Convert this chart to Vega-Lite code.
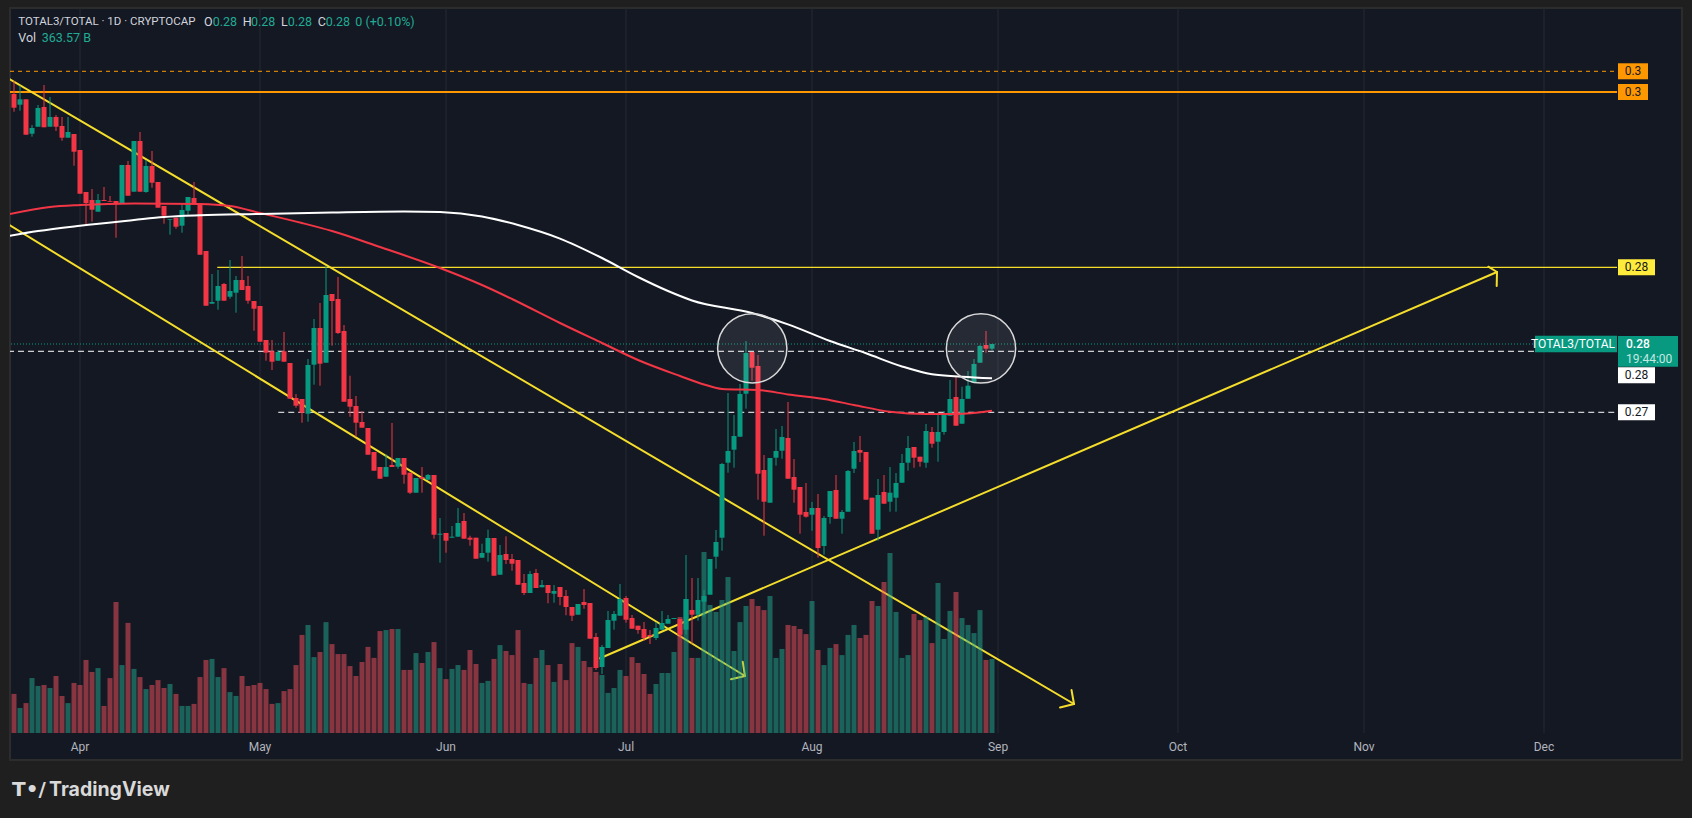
{
  "$schema": "https://vega.github.io/schema/vega-lite/v6.json",
  "width": 1672,
  "height": 752,
  "autosize": {"type": "none"},
  "padding": {"left": 10, "top": 8, "right": 10, "bottom": 58},
  "background": "#1f1f1f",
  "config": {
    "view": {"fill": "#141823", "stroke": "#2c2c2c", "strokeWidth": 2},
    "scale": {"continuousPadding": 0},
    "text": {"font": "Roboto"}
  },
  "datasets": {
    "candles": [
      {"date":"2025-03-21","o":0.29502,"h":0.29593,"l":0.29378,"c":0.29406,"v":192},
      {"date":"2025-03-22","o":0.29427,"h":0.29560,"l":0.29385,"c":0.29465,"v":123},
      {"date":"2025-03-23","o":0.29465,"h":0.29465,"l":0.29217,"c":0.29217,"v":147},
      {"date":"2025-03-24","o":0.29224,"h":0.29285,"l":0.29203,"c":0.29264,"v":270},
      {"date":"2025-03-25","o":0.29273,"h":0.29425,"l":0.29273,"c":0.29404,"v":231},
      {"date":"2025-03-26","o":0.29411,"h":0.29565,"l":0.29269,"c":0.29269,"v":236},
      {"date":"2025-03-27","o":0.29273,"h":0.29481,"l":0.29273,"c":0.29341,"v":221},
      {"date":"2025-03-28","o":0.29341,"h":0.29355,"l":0.29243,"c":0.29273,"v":280},
      {"date":"2025-03-29","o":0.29278,"h":0.29341,"l":0.29175,"c":0.29196,"v":182},
      {"date":"2025-03-30","o":0.29196,"h":0.29341,"l":0.29196,"c":0.29236,"v":147},
      {"date":"2025-03-31","o":0.29222,"h":0.29222,"l":0.29000,"c":0.29098,"v":246},
      {"date":"2025-04-01","o":0.29110,"h":0.29110,"l":0.28804,"c":0.28804,"v":236},
      {"date":"2025-04-02","o":0.28816,"h":0.28816,"l":0.28592,"c":0.28739,"v":359},
      {"date":"2025-04-03","o":0.28760,"h":0.28837,"l":0.28608,"c":0.28692,"v":300},
      {"date":"2025-04-04","o":0.28678,"h":0.28802,"l":0.28678,"c":0.28760,"v":319},
      {"date":"2025-04-05","o":0.28760,"h":0.28851,"l":0.28753,"c":0.28753,"v":133},
      {"date":"2025-04-06","o":0.28753,"h":0.28788,"l":0.28748,"c":0.28748,"v":270},
      {"date":"2025-04-07","o":0.28753,"h":0.28753,"l":0.28496,"c":0.28734,"v":644},
      {"date":"2025-04-08","o":0.28734,"h":0.29005,"l":0.28734,"c":0.29005,"v":334},
      {"date":"2025-04-09","o":0.29005,"h":0.29033,"l":0.28790,"c":0.28790,"v":541},
      {"date":"2025-04-10","o":0.28818,"h":0.29173,"l":0.28818,"c":0.29173,"v":315},
      {"date":"2025-04-11","o":0.29173,"h":0.29236,"l":0.28818,"c":0.28818,"v":275},
      {"date":"2025-04-12","o":0.28816,"h":0.29040,"l":0.28811,"c":0.28998,"v":216},
      {"date":"2025-04-13","o":0.28998,"h":0.29103,"l":0.28846,"c":0.28881,"v":236},
      {"date":"2025-04-14","o":0.28886,"h":0.28886,"l":0.28706,"c":0.28706,"v":260},
      {"date":"2025-04-15","o":0.28718,"h":0.28718,"l":0.28594,"c":0.28650,"v":221},
      {"date":"2025-04-16","o":0.28622,"h":0.28627,"l":0.28517,"c":0.28627,"v":241},
      {"date":"2025-04-17","o":0.28636,"h":0.28636,"l":0.28559,"c":0.28573,"v":192},
      {"date":"2025-04-18","o":0.28580,"h":0.28725,"l":0.28531,"c":0.28690,"v":133},
      {"date":"2025-04-19","o":0.28685,"h":0.28781,"l":0.28657,"c":0.28781,"v":133},
      {"date":"2025-04-20","o":0.28774,"h":0.28886,"l":0.28737,"c":0.28737,"v":143},
      {"date":"2025-04-21","o":0.28737,"h":0.28737,"l":0.28377,"c":0.28377,"v":275},
      {"date":"2025-04-22","o":0.28403,"h":0.28403,"l":0.28020,"c":0.28020,"v":359},
      {"date":"2025-04-23","o":0.28034,"h":0.28242,"l":0.28034,"c":0.28046,"v":364},
      {"date":"2025-04-24","o":0.28055,"h":0.28270,"l":0.27992,"c":0.28158,"v":275},
      {"date":"2025-04-25","o":0.28172,"h":0.28179,"l":0.28055,"c":0.28055,"v":319},
      {"date":"2025-04-26","o":0.28083,"h":0.28340,"l":0.28069,"c":0.28123,"v":201},
      {"date":"2025-04-27","o":0.28111,"h":0.28228,"l":0.27971,"c":0.28200,"v":182},
      {"date":"2025-04-28","o":0.28200,"h":0.28368,"l":0.28130,"c":0.28130,"v":280},
      {"date":"2025-04-29","o":0.28158,"h":0.28228,"l":0.28034,"c":0.28055,"v":231},
      {"date":"2025-04-30","o":0.28053,"h":0.28053,"l":0.27845,"c":0.27999,"v":236},
      {"date":"2025-05-01","o":0.28018,"h":0.28018,"l":0.27768,"c":0.27768,"v":246},
      {"date":"2025-05-02","o":0.27780,"h":0.27780,"l":0.27635,"c":0.27691,"v":216},
      {"date":"2025-05-03","o":0.27701,"h":0.27780,"l":0.27570,"c":0.27628,"v":143},
      {"date":"2025-05-04","o":0.27635,"h":0.27710,"l":0.27635,"c":0.27696,"v":147},
      {"date":"2025-05-05","o":0.27701,"h":0.27836,"l":0.27628,"c":0.27628,"v":206},
      {"date":"2025-05-06","o":0.27619,"h":0.27619,"l":0.27369,"c":0.27369,"v":216},
      {"date":"2025-05-07","o":0.27374,"h":0.27402,"l":0.27306,"c":0.27320,"v":334},
      {"date":"2025-05-08","o":0.27367,"h":0.27367,"l":0.27201,"c":0.27271,"v":482},
      {"date":"2025-05-09","o":0.27264,"h":0.27647,"l":0.27208,"c":0.27605,"v":531},
      {"date":"2025-05-10","o":0.27607,"h":0.27927,"l":0.27467,"c":0.27864,"v":373},
      {"date":"2025-05-11","o":0.27864,"h":0.28039,"l":0.27460,"c":0.27614,"v":398},
      {"date":"2025-05-12","o":0.27621,"h":0.28298,"l":0.27621,"c":0.28095,"v":545},
      {"date":"2025-05-13","o":0.28102,"h":0.28102,"l":0.27740,"c":0.28053,"v":437},
      {"date":"2025-05-14","o":0.28067,"h":0.28221,"l":0.27822,"c":0.27829,"v":388},
      {"date":"2025-05-15","o":0.27843,"h":0.27885,"l":0.27348,"c":0.27348,"v":388},
      {"date":"2025-05-16","o":0.27367,"h":0.27530,"l":0.27243,"c":0.27313,"v":329},
      {"date":"2025-05-17","o":0.27318,"h":0.27388,"l":0.27103,"c":0.27201,"v":280},
      {"date":"2025-05-18","o":0.27206,"h":0.27283,"l":0.27166,"c":0.27166,"v":349},
      {"date":"2025-05-19","o":0.27164,"h":0.27164,"l":0.26977,"c":0.26977,"v":423},
      {"date":"2025-05-20","o":0.26996,"h":0.26996,"l":0.26865,"c":0.26865,"v":369},
      {"date":"2025-05-21","o":0.26891,"h":0.26891,"l":0.26809,"c":0.26809,"v":501},
      {"date":"2025-05-22","o":0.26823,"h":0.26980,"l":0.26823,"c":0.26891,"v":506},
      {"date":"2025-05-23","o":0.26905,"h":0.27199,"l":0.26891,"c":0.26891,"v":511},
      {"date":"2025-05-24","o":0.26893,"h":0.26954,"l":0.26879,"c":0.26954,"v":511},
      {"date":"2025-05-25","o":0.26954,"h":0.26954,"l":0.26774,"c":0.26837,"v":310},
      {"date":"2025-05-26","o":0.26851,"h":0.26851,"l":0.26702,"c":0.26711,"v":310},
      {"date":"2025-05-27","o":0.26711,"h":0.26814,"l":0.26711,"c":0.26814,"v":393},
      {"date":"2025-05-28","o":0.26821,"h":0.26891,"l":0.26711,"c":0.26809,"v":344},
      {"date":"2025-05-29","o":0.26802,"h":0.26842,"l":0.26802,"c":0.26835,"v":398},
      {"date":"2025-05-30","o":0.26835,"h":0.26835,"l":0.26389,"c":0.26417,"v":447},
      {"date":"2025-05-31","o":0.26417,"h":0.26534,"l":0.26221,"c":0.26424,"v":319},
      {"date":"2025-06-01","o":0.26429,"h":0.26429,"l":0.26291,"c":0.26375,"v":265},
      {"date":"2025-06-02","o":0.26396,"h":0.26478,"l":0.26396,"c":0.26403,"v":315},
      {"date":"2025-06-03","o":0.26403,"h":0.26604,"l":0.26403,"c":0.26499,"v":334},
      {"date":"2025-06-04","o":0.26513,"h":0.26569,"l":0.26389,"c":0.26389,"v":310},
      {"date":"2025-06-05","o":0.26396,"h":0.26410,"l":0.26340,"c":0.26382,"v":408},
      {"date":"2025-06-06","o":0.26396,"h":0.26396,"l":0.26249,"c":0.26249,"v":339},
      {"date":"2025-06-07","o":0.26256,"h":0.26354,"l":0.26256,"c":0.26289,"v":246},
      {"date":"2025-06-08","o":0.26291,"h":0.26452,"l":0.26228,"c":0.26394,"v":256},
      {"date":"2025-06-09","o":0.26394,"h":0.26394,"l":0.26130,"c":0.26130,"v":364},
      {"date":"2025-06-10","o":0.26137,"h":0.26345,"l":0.26137,"c":0.26275,"v":432},
      {"date":"2025-06-11","o":0.26282,"h":0.26406,"l":0.26212,"c":0.26240,"v":403},
      {"date":"2025-06-12","o":0.26247,"h":0.26282,"l":0.26165,"c":0.26214,"v":383},
      {"date":"2025-06-13","o":0.26240,"h":0.26240,"l":0.26067,"c":0.26067,"v":506},
      {"date":"2025-06-14","o":0.26079,"h":0.26142,"l":0.25995,"c":0.26009,"v":246},
      {"date":"2025-06-15","o":0.26009,"h":0.26163,"l":0.26009,"c":0.26142,"v":241},
      {"date":"2025-06-16","o":0.26149,"h":0.26177,"l":0.26044,"c":0.26044,"v":369},
      {"date":"2025-06-17","o":0.26049,"h":0.26100,"l":0.26049,"c":0.26065,"v":408},
      {"date":"2025-06-18","o":0.26065,"h":0.26065,"l":0.25937,"c":0.26009,"v":334},
      {"date":"2025-06-19","o":0.26004,"h":0.26065,"l":0.25941,"c":0.26023,"v":251},
      {"date":"2025-06-20","o":0.26051,"h":0.26051,"l":0.25923,"c":0.25981,"v":339},
      {"date":"2025-06-21","o":0.25988,"h":0.26030,"l":0.25853,"c":0.25911,"v":260},
      {"date":"2025-06-22","o":0.25911,"h":0.25911,"l":0.25813,"c":0.25850,"v":442},
      {"date":"2025-06-23","o":0.25857,"h":0.25932,"l":0.25857,"c":0.25932,"v":423},
      {"date":"2025-06-24","o":0.25946,"h":0.26037,"l":0.25899,"c":0.25925,"v":354},
      {"date":"2025-06-25","o":0.25939,"h":0.25939,"l":0.25689,"c":0.25689,"v":324},
      {"date":"2025-06-26","o":0.25701,"h":0.25729,"l":0.25470,"c":0.25484,"v":300},
      {"date":"2025-06-27","o":0.25491,"h":0.25645,"l":0.25442,"c":0.25631,"v":285},
      {"date":"2025-06-28","o":0.25624,"h":0.25883,"l":0.25624,"c":0.25820,"v":197},
      {"date":"2025-06-29","o":0.25815,"h":0.25883,"l":0.25752,"c":0.25862,"v":221},
      {"date":"2025-06-30","o":0.25850,"h":0.26072,"l":0.25850,"c":0.25967,"v":310},
      {"date":"2025-07-01","o":0.25974,"h":0.25988,"l":0.25801,"c":0.25822,"v":280},
      {"date":"2025-07-02","o":0.25834,"h":0.25855,"l":0.25759,"c":0.25759,"v":373},
      {"date":"2025-07-03","o":0.25780,"h":0.25780,"l":0.25724,"c":0.25750,"v":344},
      {"date":"2025-07-04","o":0.25757,"h":0.25806,"l":0.25673,"c":0.25694,"v":290},
      {"date":"2025-07-05","o":0.25715,"h":0.25750,"l":0.25652,"c":0.25706,"v":192},
      {"date":"2025-07-06","o":0.25694,"h":0.25806,"l":0.25680,"c":0.25764,"v":241},
      {"date":"2025-07-07","o":0.25752,"h":0.25883,"l":0.25752,"c":0.25799,"v":295},
      {"date":"2025-07-08","o":0.25794,"h":0.25855,"l":0.25794,"c":0.25827,"v":295},
      {"date":"2025-07-09","o":0.25827,"h":0.25834,"l":0.25827,"c":0.25834,"v":398},
      {"date":"2025-07-10","o":0.25827,"h":0.25827,"l":0.25696,"c":0.25717,"v":570},
      {"date":"2025-07-11","o":0.25752,"h":0.26275,"l":0.25717,"c":0.25967,"v":658},
      {"date":"2025-07-12","o":0.25890,"h":0.26114,"l":0.25654,"c":0.25857,"v":369},
      {"date":"2025-07-13","o":0.25857,"h":0.26114,"l":0.25815,"c":0.25960,"v":369},
      {"date":"2025-07-14","o":0.25948,"h":0.26030,"l":0.25843,"c":0.25988,"v":889},
      {"date":"2025-07-15","o":0.25997,"h":0.26247,"l":0.25997,"c":0.26247,"v":629},
      {"date":"2025-07-16","o":0.26263,"h":0.26450,"l":0.26179,"c":0.26366,"v":595},
      {"date":"2025-07-17","o":0.26396,"h":0.26919,"l":0.26305,"c":0.26912,"v":654},
      {"date":"2025-07-18","o":0.26921,"h":0.27409,"l":0.26851,"c":0.27003,"v":767},
      {"date":"2025-07-19","o":0.27012,"h":0.27255,"l":0.26886,"c":0.27108,"v":403},
      {"date":"2025-07-20","o":0.27103,"h":0.27472,"l":0.27103,"c":0.27402,"v":545},
      {"date":"2025-07-21","o":0.27404,"h":0.27773,"l":0.27299,"c":0.27689,"v":624},
      {"date":"2025-07-22","o":0.27696,"h":0.27696,"l":0.27495,"c":0.27586,"v":658},
      {"date":"2025-07-23","o":0.27598,"h":0.27675,"l":0.26662,"c":0.26844,"v":624},
      {"date":"2025-07-24","o":0.26870,"h":0.26975,"l":0.26410,"c":0.26648,"v":604},
      {"date":"2025-07-25","o":0.26641,"h":0.26954,"l":0.26641,"c":0.26954,"v":673},
      {"date":"2025-07-26","o":0.26956,"h":0.27157,"l":0.26900,"c":0.27003,"v":369},
      {"date":"2025-07-27","o":0.27005,"h":0.27178,"l":0.26949,"c":0.27101,"v":413},
      {"date":"2025-07-28","o":0.27094,"h":0.27346,"l":0.26809,"c":0.26809,"v":531},
      {"date":"2025-07-29","o":0.26821,"h":0.26947,"l":0.26641,"c":0.26732,"v":526},
      {"date":"2025-07-30","o":0.26751,"h":0.26751,"l":0.26424,"c":0.26557,"v":511},
      {"date":"2025-07-31","o":0.26576,"h":0.26779,"l":0.26536,"c":0.26543,"v":486},
      {"date":"2025-08-01","o":0.26557,"h":0.26646,"l":0.26445,"c":0.26604,"v":649},
      {"date":"2025-08-02","o":0.26604,"h":0.26702,"l":0.26256,"c":0.26324,"v":408},
      {"date":"2025-08-03","o":0.26338,"h":0.26548,"l":0.26277,"c":0.26534,"v":334},
      {"date":"2025-08-04","o":0.26541,"h":0.26723,"l":0.26494,"c":0.26723,"v":418},
      {"date":"2025-08-05","o":0.26730,"h":0.26835,"l":0.26529,"c":0.26529,"v":437},
      {"date":"2025-08-06","o":0.26529,"h":0.26590,"l":0.26424,"c":0.26576,"v":383},
      {"date":"2025-08-07","o":0.26578,"h":0.26870,"l":0.26578,"c":0.26863,"v":482},
      {"date":"2025-08-08","o":0.26879,"h":0.27066,"l":0.26849,"c":0.27003,"v":531},
      {"date":"2025-08-09","o":0.27010,"h":0.27108,"l":0.26926,"c":0.26991,"v":467},
      {"date":"2025-08-10","o":0.26996,"h":0.26996,"l":0.26662,"c":0.26662,"v":482},
      {"date":"2025-08-11","o":0.26676,"h":0.26676,"l":0.26424,"c":0.26424,"v":649},
      {"date":"2025-08-12","o":0.26452,"h":0.26807,"l":0.26375,"c":0.26695,"v":624},
      {"date":"2025-08-13","o":0.26716,"h":0.26835,"l":0.26634,"c":0.26634,"v":742},
      {"date":"2025-08-14","o":0.26648,"h":0.26891,"l":0.26578,"c":0.26711,"v":885},
      {"date":"2025-08-15","o":0.26676,"h":0.26849,"l":0.26578,"c":0.26779,"v":595},
      {"date":"2025-08-16","o":0.26781,"h":0.26982,"l":0.26781,"c":0.26919,"v":369},
      {"date":"2025-08-17","o":0.26921,"h":0.27108,"l":0.26865,"c":0.27024,"v":383},
      {"date":"2025-08-18","o":0.27031,"h":0.27031,"l":0.26886,"c":0.26956,"v":585},
      {"date":"2025-08-19","o":0.26963,"h":0.26963,"l":0.26893,"c":0.26928,"v":555},
      {"date":"2025-08-20","o":0.26921,"h":0.27192,"l":0.26886,"c":0.27143,"v":570},
      {"date":"2025-08-21","o":0.27136,"h":0.27171,"l":0.27026,"c":0.27054,"v":442},
      {"date":"2025-08-22","o":0.27068,"h":0.27255,"l":0.26928,"c":0.27136,"v":737},
      {"date":"2025-08-23","o":0.27136,"h":0.27283,"l":0.27117,"c":0.27255,"v":462},
      {"date":"2025-08-24","o":0.27250,"h":0.27500,"l":0.27250,"c":0.27367,"v":600},
      {"date":"2025-08-25","o":0.27381,"h":0.27521,"l":0.27180,"c":0.27180,"v":693},
      {"date":"2025-08-26","o":0.27194,"h":0.27453,"l":0.27194,"c":0.27367,"v":565},
      {"date":"2025-08-27","o":0.27369,"h":0.27563,"l":0.27369,"c":0.27460,"v":531},
      {"date":"2025-08-28","o":0.27479,"h":0.27647,"l":0.27479,"c":0.27612,"v":491},
      {"date":"2025-08-29","o":0.27621,"h":0.27745,"l":0.27621,"c":0.27738,"v":604},
      {"date":"2025-08-30","o":0.27745,"h":0.27843,"l":0.27691,"c":0.27719,"v":359},
      {"date":"2025-08-31","o":0.27719,"h":0.27752,"l":0.27705,"c":0.27752,"v":363.57}
    ],
    "ma_red": [
      {"date":"2025-03-20","price":0.28659},
      {"date":"2025-03-27","price":0.28711},
      {"date":"2025-04-01","price":0.28725},
      {"date":"2025-04-10","price":0.28736},
      {"date":"2025-04-21","price":0.28732},
      {"date":"2025-04-26","price":0.28718},
      {"date":"2025-05-01","price":0.28669},
      {"date":"2025-05-08","price":0.28599},
      {"date":"2025-05-13","price":0.28543},
      {"date":"2025-05-21","price":0.28431},
      {"date":"2025-05-31","price":0.28284},
      {"date":"2025-06-07","price":0.28165},
      {"date":"2025-06-12","price":0.28067},
      {"date":"2025-06-20","price":0.27899},
      {"date":"2025-06-27","price":0.27759},
      {"date":"2025-07-03","price":0.27640},
      {"date":"2025-07-10","price":0.27528},
      {"date":"2025-07-14","price":0.27469},
      {"date":"2025-07-17","price":0.27437},
      {"date":"2025-07-23","price":0.27430},
      {"date":"2025-07-28","price":0.27399},
      {"date":"2025-08-03","price":0.27367},
      {"date":"2025-08-08","price":0.27325},
      {"date":"2025-08-14","price":0.27278},
      {"date":"2025-08-20","price":0.27262},
      {"date":"2025-08-25","price":0.27262},
      {"date":"2025-08-31","price":0.27285}
    ],
    "ma_white": [
      {"date":"2025-03-20","price":0.28508},
      {"date":"2025-03-25","price":0.28543},
      {"date":"2025-04-01","price":0.28580},
      {"date":"2025-04-10","price":0.28620},
      {"date":"2025-04-15","price":0.28641},
      {"date":"2025-04-21","price":0.28653},
      {"date":"2025-05-01","price":0.28662},
      {"date":"2025-05-13","price":0.28673},
      {"date":"2025-05-25","price":0.28680},
      {"date":"2025-05-31","price":0.28676},
      {"date":"2025-06-07","price":0.28645},
      {"date":"2025-06-13","price":0.28585},
      {"date":"2025-06-20","price":0.28490},
      {"date":"2025-06-27","price":0.28354},
      {"date":"2025-07-03","price":0.28221},
      {"date":"2025-07-08","price":0.28123},
      {"date":"2025-07-12","price":0.28057},
      {"date":"2025-07-22","price":0.27969},
      {"date":"2025-07-28","price":0.27889},
      {"date":"2025-08-04","price":0.27773},
      {"date":"2025-08-10","price":0.27687},
      {"date":"2025-08-16","price":0.27595},
      {"date":"2025-08-21","price":0.27540},
      {"date":"2025-08-26","price":0.27523},
      {"date":"2025-08-31","price":0.27512}
    ],
    "trend": [
      {"seg":"A","date":"2025-03-20","price":0.29613},
      {"seg":"A","date":"2025-09-13T16:00:00Z","price":0.25232},
      {"seg":"A1","date":"2025-09-13T06:00:00Z","price":0.25330},
      {"seg":"A1","date":"2025-09-13T16:00:00Z","price":0.25232},
      {"seg":"A2","date":"2025-09-11T08:00:00Z","price":0.25208},
      {"seg":"A2","date":"2025-09-13T16:00:00Z","price":0.25232},
      {"seg":"B","date":"2025-03-20","price":0.28591},
      {"seg":"B","date":"2025-07-20T20:00:00Z","price":0.25428},
      {"seg":"B1","date":"2025-07-20T10:48:00Z","price":0.25528},
      {"seg":"B1","date":"2025-07-20T20:00:00Z","price":0.25428},
      {"seg":"B2","date":"2025-07-18T12:00:00Z","price":0.25405},
      {"seg":"B2","date":"2025-07-20T20:00:00Z","price":0.25428},
      {"seg":"C","date":"2025-06-26T16:00:00Z","price":0.25552},
      {"seg":"C","date":"2025-11-23T04:00:00Z","price":0.28256},
      {"seg":"C1","date":"2025-11-21T17:12:00Z","price":0.28293},
      {"seg":"C1","date":"2025-11-23T04:00:00Z","price":0.28256},
      {"seg":"C2","date":"2025-11-23T02:48:00Z","price":0.28158},
      {"seg":"C2","date":"2025-11-23T04:00:00Z","price":0.28256}
    ],
    "hlines": [
      {"name":"orange_dash","start":"2025-03-15","end":"2025-12-13T04:00:00Z","price":0.29661},
      {"name":"orange","start":"2025-03-15","end":"2025-12-13T04:00:00Z","price":0.29516},
      {"name":"yellow","start":"2025-04-23T21:00:00Z","end":"2025-12-13T04:00:00Z","price":0.28289},
      {"name":"white_dash","start":"2025-03-15","end":"2025-11-29T12:00:00Z","price":0.27701},
      {"name":"white_dash","start":"2025-05-04T01:00:00Z","end":"2025-12-13T04:00:00Z","price":0.27274},
      {"name":"last","start":"2025-03-15","end":"2025-11-29T12:00:00Z","price":0.27752}
    ],
    "months": [
      {"date":"2025-04-01","label":"Apr"},
      {"date":"2025-05-01","label":"May"},
      {"date":"2025-06-01","label":"Jun"},
      {"date":"2025-07-01","label":"Jul"},
      {"date":"2025-08-01","label":"Aug"},
      {"date":"2025-09-01","label":"Sep"},
      {"date":"2025-10-01","label":"Oct"},
      {"date":"2025-11-01","label":"Nov"},
      {"date":"2025-12-01","label":"Dec"}
    ],
    "circles": [
      {"date":"2025-07-22T01:00:00Z","price":0.27722},
      {"date":"2025-08-29T04:00:00Z","price":0.27721}
    ],
    "labels": [
      {"group":"orange","text":"0.3","price":0.29661},
      {"group":"orange","text":"0.3","price":0.29516},
      {"group":"yellow","text":"0.28","price":0.28289},
      {"group":"white","text":"0.28","price":0.27533},
      {"group":"white","text":"0.27","price":0.27274},
      {"group":"last","text":"0.28","price":0.27752},
      {"group":"symbol","text":"TOTAL3/TOTAL","price":0.27752}
    ],
    "header": [
      {"text":"TOTAL3/TOTAL · 1D · CRYPTOCAP","date":"2025-03-21T17:12:00Z","price":0.30006,"tone":"title"},
      {"text":"O","date":"2025-04-21T16:00:00Z","price":0.30006,"tone":"plain"},
      {"text":"0.28","date":"2025-04-23T02:48:00Z","price":0.30006,"tone":"value"},
      {"text":"H","date":"2025-04-28T02:48:00Z","price":0.30006,"tone":"plain"},
      {"text":"0.28","date":"2025-04-29T12:00:00Z","price":0.30006,"tone":"value"},
      {"text":"L","date":"2025-05-04T12:00:00Z","price":0.30006,"tone":"plain"},
      {"text":"0.28","date":"2025-05-05T14:48:00Z","price":0.30006,"tone":"value"},
      {"text":"C","date":"2025-05-10T14:48:00Z","price":0.30006,"tone":"plain"},
      {"text":"0.28","date":"2025-05-11T22:48:00Z","price":0.30006,"tone":"value"},
      {"text":"0 (+0.10%)","date":"2025-05-16T21:12:00Z","price":0.30006,"tone":"value"},
      {"text":"Vol","date":"2025-03-21T17:12:00Z","price":0.29894,"tone":"plain"},
      {"text":"363.57 B","date":"2025-03-25T14:48:00Z","price":0.29894,"tone":"value"}
    ],
    "logo": [
      {"part":"icon","text":"T•/","date":"2025-03-20T16:00:00Z","price":0.2463},
      {"part":"word","text":"TradingView","date":"2025-03-26T20:00:00Z","price":0.2463}
    ]
  },
  "layer": [
    {
      "layer": [
        {
          "data": {"name": "months"},
          "mark": {"type": "rule", "color": "#242935", "strokeWidth": 1},
          "encoding": {
            "x": {"field": "date", "type": "temporal", "axis": null,
                  "scale": {"type": "utc", "nice": false, "padding": 0,
                            "domain": [{"year": 2025, "month": 3, "date": 20, "hours": 8, "utc": true}, {"year": 2025, "month": 12, "date": 24, "utc": true}]}},
            "y": {"datum": 0.30104, "type": "quantitative", "axis": null,
                  "scale": {"domain": [0.2484, 0.30104], "nice": false, "zero": false}},
            "y2": {"datum": 0.25029}
          }
        },
        {
          "data": {"name": "hlines", "format": {"parse": {"start": "date", "end": "date"}}},
          "transform": [{"filter": "datum.name == 'orange_dash'"}],
          "mark": {"type": "rule", "color": "#ff9800", "strokeWidth": 1, "strokeDash": [4, 4], "clip": true},
          "encoding": {
            "x": {"field": "start", "type": "temporal", "axis": null},
            "x2": {"field": "end"},
            "y": {"field": "price", "type": "quantitative", "axis": null}
          }
        },
        {
          "data": {"name": "hlines", "format": {"parse": {"start": "date", "end": "date"}}},
          "transform": [{"filter": "datum.name == 'orange'"}],
          "mark": {"type": "rule", "color": "#ff9800", "strokeWidth": 2, "clip": true},
          "encoding": {
            "x": {"field": "start", "type": "temporal", "axis": null},
            "x2": {"field": "end"},
            "y": {"field": "price", "type": "quantitative", "axis": null}
          }
        },
        {
          "data": {"name": "hlines", "format": {"parse": {"start": "date", "end": "date"}}},
          "transform": [{"filter": "datum.name == 'yellow'"}],
          "mark": {"type": "rule", "color": "#f5dd2b", "strokeWidth": 1.2, "clip": true},
          "encoding": {
            "x": {"field": "start", "type": "temporal", "axis": null},
            "x2": {"field": "end"},
            "y": {"field": "price", "type": "quantitative", "axis": null}
          }
        },
        {
          "data": {"name": "hlines", "format": {"parse": {"start": "date", "end": "date"}}},
          "transform": [{"filter": "datum.name == 'white_dash'"}],
          "mark": {"type": "rule", "color": "#ffffff", "strokeWidth": 1, "strokeDash": [6, 4], "clip": true},
          "encoding": {
            "x": {"field": "start", "type": "temporal", "axis": null},
            "x2": {"field": "end"},
            "y": {"field": "price", "type": "quantitative", "axis": null}
          }
        },
        {
          "data": {"name": "hlines", "format": {"parse": {"start": "date", "end": "date"}}},
          "transform": [{"filter": "datum.name == 'last'"}],
          "mark": {"type": "rule", "color": "#089981", "strokeWidth": 1, "strokeDash": [1, 2], "clip": true},
          "encoding": {
            "x": {"field": "start", "type": "temporal", "axis": null},
            "x2": {"field": "end"},
            "y": {"field": "price", "type": "quantitative", "axis": null}
          }
        },
        {
          "data": {"name": "trend"},
          "mark": {"type": "line", "color": "#f5dd2b", "strokeWidth": 2, "strokeCap": "round", "clip": true},
          "encoding": {
            "x": {"field": "date", "type": "temporal", "axis": null},
            "y": {"field": "price", "type": "quantitative", "axis": null},
            "detail": {"field": "seg"}
          }
        }
      ]
    },
    {
      "data": {"name": "candles"},
      "mark": {"type": "bar", "size": 5, "opacity": 0.5},
      "encoding": {
        "x": {"field": "date", "type": "temporal", "axis": null,
              "scale": {"type": "utc", "nice": false, "padding": 0,
                        "domain": [{"year": 2025, "month": 3, "date": 20, "hours": 8, "utc": true}, {"year": 2025, "month": 12, "date": 24, "utc": true}]}},
        "y": {"field": "v", "type": "quantitative", "axis": null,
              "scale": {"domain": [-132.7, 3562.9], "nice": false, "zero": false}},
        "y2": {"datum": 0},
        "color": {"condition": {"test": "datum.c >= datum.o", "value": "#22ab94"}, "value": "#f7525f"}
      }
    },
    {
      "layer": [
        {
          "data": {"name": "candles"},
          "mark": {"type": "rule", "strokeWidth": 1},
          "encoding": {
            "x": {"field": "date", "type": "temporal", "axis": null,
                  "scale": {"type": "utc", "nice": false, "padding": 0,
                            "domain": [{"year": 2025, "month": 3, "date": 20, "hours": 8, "utc": true}, {"year": 2025, "month": 12, "date": 24, "utc": true}]}},
            "y": {"field": "l", "type": "quantitative", "axis": null,
                  "scale": {"domain": [0.2484, 0.30104], "nice": false, "zero": false}},
            "y2": {"field": "h"},
            "color": {"condition": {"test": "datum.c >= datum.o", "value": "#089981"}, "value": "#f23645"}
          }
        },
        {
          "data": {"name": "candles"},
          "mark": {"type": "bar", "size": 5},
          "encoding": {
            "x": {"field": "date", "type": "temporal", "axis": null},
            "y": {"field": "o", "type": "quantitative", "axis": null},
            "y2": {"field": "c"},
            "color": {"condition": {"test": "datum.c >= datum.o", "value": "#089981"}, "value": "#f23645"}
          }
        },
        {
          "data": {"name": "ma_red"},
          "mark": {"type": "line", "color": "#f23645", "strokeWidth": 2, "interpolate": "monotone", "clip": true},
          "encoding": {
            "x": {"field": "date", "type": "temporal", "axis": null},
            "y": {"field": "price", "type": "quantitative", "axis": null}
          }
        },
        {
          "data": {"name": "ma_white"},
          "mark": {"type": "line", "color": "#ffffff", "strokeWidth": 2, "interpolate": "monotone", "clip": true},
          "encoding": {
            "x": {"field": "date", "type": "temporal", "axis": null},
            "y": {"field": "price", "type": "quantitative", "axis": null}
          }
        },
        {
          "data": {"name": "circles"},
          "mark": {"type": "point", "shape": "circle", "size": 4800, "filled": true, "fill": "#ffffff", "fillOpacity": 0.08, "stroke": "#d9d9d9", "strokeWidth": 1.5, "opacity": 1},
          "encoding": {
            "x": {"field": "date", "type": "temporal", "axis": null},
            "y": {"field": "price", "type": "quantitative", "axis": null}
          }
        },
        {
          "data": {"name": "labels"},
          "transform": [{"filter": "datum.group == 'orange'"}],
          "mark": {"type": "rect", "color": "#ff9800", "yOffset": -8, "y2Offset": 8},
          "encoding": {
            "x": {"datum": {"year": 2025, "month": 12, "date": 13, "hours": 8, "utc": true}, "type": "temporal", "axis": null},
            "x2": {"datum": {"year": 2025, "month": 12, "date": 18, "hours": 8, "utc": true}},
            "y": {"field": "price", "type": "quantitative", "axis": null},
            "y2": {"field": "price"}
          }
        },
        {
          "data": {"name": "labels"},
          "transform": [{"filter": "datum.group == 'orange'"}],
          "mark": {"type": "text", "color": "#131722", "fontSize": 12, "align": "center", "baseline": "middle"},
          "encoding": {
            "x": {"datum": {"year": 2025, "month": 12, "date": 15, "hours": 20, "utc": true}, "type": "temporal", "axis": null},
            "y": {"field": "price", "type": "quantitative", "axis": null},
            "text": {"field": "text"}
          }
        },
        {
          "data": {"name": "labels"},
          "transform": [{"filter": "datum.group == 'yellow' || datum.group == 'white'"}],
          "mark": {"type": "rect", "yOffset": -8, "y2Offset": 8},
          "encoding": {
            "x": {"datum": {"year": 2025, "month": 12, "date": 13, "hours": 8, "utc": true}, "type": "temporal", "axis": null},
            "x2": {"datum": {"year": 2025, "month": 12, "date": 19, "hours": 12, "utc": true}},
            "y": {"field": "price", "type": "quantitative", "axis": null},
            "y2": {"field": "price"},
            "color": {"condition": {"test": "datum.group == 'yellow'", "value": "#ffeb3b"}, "value": "#ffffff"}
          }
        },
        {
          "data": {"name": "labels"},
          "transform": [{"filter": "datum.group == 'yellow' || datum.group == 'white'"}],
          "mark": {"type": "text", "color": "#131722", "fontSize": 12, "align": "center", "baseline": "middle"},
          "encoding": {
            "x": {"datum": {"year": 2025, "month": 12, "date": 16, "hours": 10, "utc": true}, "type": "temporal", "axis": null},
            "y": {"field": "price", "type": "quantitative", "axis": null},
            "text": {"field": "text"}
          }
        },
        {
          "data": {"name": "labels"},
          "transform": [{"filter": "datum.group == 'symbol'"}],
          "mark": {"type": "rect", "color": "#089981", "yOffset": -8.3, "y2Offset": 8.3},
          "encoding": {
            "x": {"datum": {"year": 2025, "month": 11, "date": 29, "hours": 12, "utc": true}, "type": "temporal", "axis": null},
            "x2": {"datum": {"year": 2025, "month": 12, "date": 13, "hours": 4, "utc": true}},
            "y": {"field": "price", "type": "quantitative", "axis": null},
            "y2": {"field": "price"}
          }
        },
        {
          "data": {"name": "labels"},
          "transform": [{"filter": "datum.group == 'symbol'"}],
          "mark": {"type": "text", "color": "#ffffff", "fontSize": 12, "align": "center", "baseline": "middle"},
          "encoding": {
            "x": {"datum": {"year": 2025, "month": 12, "date": 5, "hours": 20, "utc": true}, "type": "temporal", "axis": null},
            "y": {"field": "price", "type": "quantitative", "axis": null},
            "text": {"field": "text"}
          }
        },
        {
          "data": {"name": "labels"},
          "transform": [{"filter": "datum.group == 'last'"}],
          "mark": {"type": "rect", "color": "#089981", "yOffset": -8, "y2Offset": 22.7},
          "encoding": {
            "x": {"datum": {"year": 2025, "month": 12, "date": 13, "hours": 8, "utc": true}, "type": "temporal", "axis": null},
            "x2": {"datum": {"year": 2025, "month": 12, "date": 23, "hours": 8, "utc": true}},
            "y": {"field": "price", "type": "quantitative", "axis": null},
            "y2": {"field": "price"}
          }
        },
        {
          "data": {"name": "labels"},
          "transform": [{"filter": "datum.group == 'last'"}],
          "mark": {"type": "text", "color": "#ffffff", "fontSize": 12, "fontWeight": 500, "align": "left", "baseline": "middle"},
          "encoding": {
            "x": {"datum": {"year": 2025, "month": 12, "date": 14, "hours": 16, "utc": true}, "type": "temporal", "axis": null},
            "y": {"field": "price", "type": "quantitative", "axis": null},
            "text": {"field": "text"}
          }
        },
        {
          "data": {"name": "labels"},
          "transform": [{"filter": "datum.group == 'last'"}],
          "mark": {"type": "text", "color": "#c4e9e1", "fontSize": 12, "align": "left", "baseline": "middle", "dy": 14.5},
          "encoding": {
            "x": {"datum": {"year": 2025, "month": 12, "date": 14, "hours": 16, "utc": true}, "type": "temporal", "axis": null},
            "y": {"field": "price", "type": "quantitative", "axis": null},
            "text": {"value": "19:44:00"}
          }
        },
        {
          "data": {"name": "header"},
          "transform": [{"filter": "datum.tone == 'title'"}],
          "mark": {"type": "text", "color": "#d1d4dc", "fontSize": 11.5, "align": "left", "baseline": "middle"},
          "encoding": {
            "x": {"field": "date", "type": "temporal", "axis": null},
            "y": {"field": "price", "type": "quantitative", "axis": null},
            "text": {"field": "text"}
          }
        },
        {
          "data": {"name": "header"},
          "transform": [{"filter": "datum.tone != 'title'"}],
          "mark": {"type": "text", "fontSize": 12.5, "align": "left", "baseline": "middle"},
          "encoding": {
            "x": {"field": "date", "type": "temporal", "axis": null},
            "y": {"field": "price", "type": "quantitative", "axis": null},
            "text": {"field": "text"},
            "color": {"condition": {"test": "datum.tone == 'value'", "value": "#22ab94"}, "value": "#d1d4dc"}
          }
        },
        {
          "data": {"name": "months"},
          "mark": {"type": "text", "color": "#b2b5be", "fontSize": 12, "align": "center", "baseline": "middle"},
          "encoding": {
            "x": {"field": "date", "type": "temporal", "axis": null},
            "y": {"datum": 0.24931, "type": "quantitative", "axis": null},
            "text": {"field": "label"}
          }
        },
        {
          "data": {"name": "logo"},
          "transform": [{"filter": "datum.part == 'icon'"}],
          "mark": {"type": "text", "color": "#d9d9d9", "font": "DejaVu Sans", "fontWeight": "bold", "fontSize": 20, "align": "left", "baseline": "middle"},
          "encoding": {
            "x": {"field": "date", "type": "temporal", "axis": null},
            "y": {"field": "price", "type": "quantitative", "axis": null},
            "text": {"field": "text"}
          }
        },
        {
          "data": {"name": "logo"},
          "transform": [{"filter": "datum.part == 'word'"}],
          "mark": {"type": "text", "color": "#d9d9d9", "font": "Inter", "fontWeight": 700, "fontSize": 19.5, "align": "left", "baseline": "middle"},
          "encoding": {
            "x": {"field": "date", "type": "temporal", "axis": null},
            "y": {"field": "price", "type": "quantitative", "axis": null},
            "text": {"field": "text"}
          }
        }
      ]
    }
  ],
  "resolve": {"scale": {"y": "independent"}}
}
